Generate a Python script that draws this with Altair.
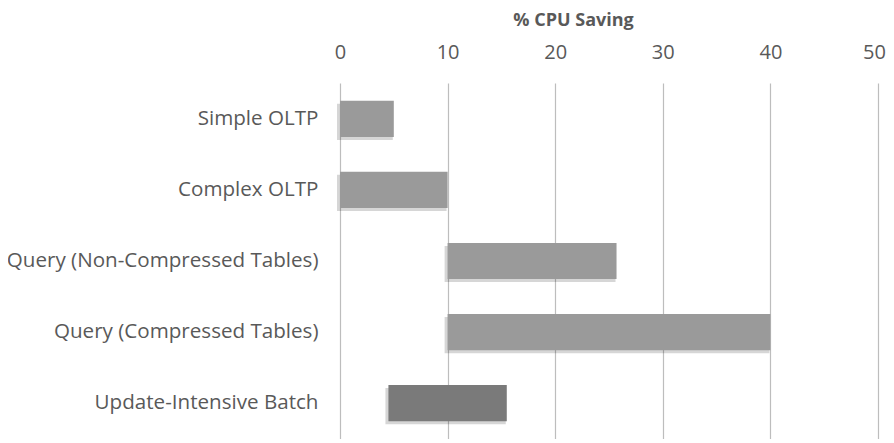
import altair as alt
import pandas as pd

categories = ["Simple OLTP", "Complex OLTP", "Query (Non-Compressed Tables)",
              "Query (Compressed Tables)", "Update-Intensive Batch"]
starts = [0, 0, 10, 10, 4.5]
ends = [5, 10, 25.7, 40, 15.5]
shades = ["#9a9a9a", "#9a9a9a", "#9a9a9a", "#9a9a9a", "#7a7a7a"]
tick_values = [0, 10, 20, 30, 40, 50]

df = pd.DataFrame({"cat": categories, "start": starts, "end": ends, "shade": shades})

x_scale = alt.Scale(domain=[0, 50], nice=False)
y_sort = categories

shadow = alt.Chart(df).mark_bar(
    color="#000000", opacity=0.16, xOffset=-3, x2Offset=-1, yOffset=3, y2Offset=3
).encode(
    x=alt.X("start:Q", scale=x_scale),
    x2="end:Q",
    y=alt.Y("cat:N", sort=y_sort),
)

bars = alt.Chart(df).mark_bar().encode(
    x=alt.X("start:Q", scale=x_scale,
            axis=alt.Axis(orient="top", title="% CPU Saving", values=tick_values,
                          grid=True, gridColor="#bdbdbd", gridWidth=1.2, domain=False, ticks=False,
                          labelFont="Open Sans", labelFontSize=20, labelColor="#595959",
                          labelPadding=21, labelFlush=False,
                          labelOffset={"condition": {"test": "datum.value == 50", "value": -4},
                                       "value": 0},
                          titleFont="Open Sans", titleFontSize=18, titleFontWeight="bold",
                          titleColor="#595959", titleX=233, titleY=-63,
                          titleBaseline="middle", titleAlign="center")),
    x2="end:Q",
    y=alt.Y("cat:N", sort=y_sort, title=None,
            scale=alt.Scale(paddingInner=0.49, paddingOuter=0.25),
            axis=alt.Axis(domain=False, ticks=False, labelFont="Open Sans", labelFontSize=20.6,
                          labelColor="#595959", labelPadding=22, labelLimit=400)),
    color=alt.Color("shade:N", scale=None),
)

chart = alt.layer(shadow, bars).properties(
    width=538, height=356,
    autosize=alt.AutoSizeParams(type="none"),
    padding={"left": 332, "top": 75, "right": 8, "bottom": 0},
).configure_view(stroke=None)

chart.save("out.html", embed_options={"renderer": "svg", "actions": False})
